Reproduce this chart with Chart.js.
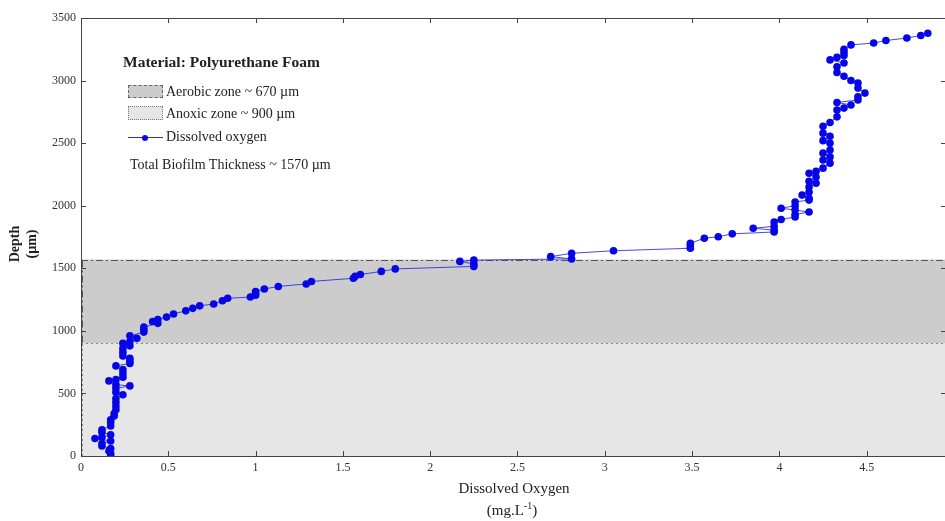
<!DOCTYPE html>
<html>
<head>
<meta charset="utf-8">
<script src="https://cdn.jsdelivr.net/npm/chart.js@4"></script>
<style>
  body { margin: 0; background: #fff; overflow: hidden; }
  #wrap { position: relative; width: 945px; height: 521px; overflow: hidden; font-family: 'Liberation Serif', 'DejaVu Serif', serif; color: #222; }
  #chart { position: absolute; left: 0; top: 0; }
  .lbl { position: absolute; white-space: nowrap; font-size: 14px; line-height: 1; }
  .ico { position: absolute; box-sizing: border-box; }
</style>
</head>
<body>
<div id="wrap">
  <canvas id="chart" width="951" height="521"></canvas>

  <div class="lbl" style="left:123px;top:54px;font-weight:bold;font-size:15.5px;">Material: Polyurethane Foam</div>
  <div class="ico" style="left:128px;top:85px;width:35px;height:13px;background:#cccccc;border:1px dashed #666;"></div>
  <div class="lbl" style="left:166px;top:85px;">Aerobic zone ~ 670 µm</div>
  <div class="ico" style="left:128px;top:106px;width:35px;height:14px;background:#e6e6e6;border:1px dotted #777;"></div>
  <div class="lbl" style="left:166px;top:107px;">Anoxic zone ~ 900 µm</div>
  <div class="ico" style="left:128px;top:137px;width:35px;height:1px;background:#2a2ae0;"></div>
  <div class="ico" style="left:142px;top:135px;width:6px;height:6px;border-radius:3px;background:#0a0ae0;"></div>
  <div class="lbl" style="left:166px;top:130px;">Dissolved oxygen</div>
  <div class="lbl" style="left:130px;top:158px;">Total Biofilm Thickness ~ 1570 µm</div>

  <div class="lbl" style="left:514px;top:481px;transform:translateX(-50%);font-size:15px;">Dissolved Oxygen</div>
  <div class="lbl" style="left:512px;top:501px;transform:translateX(-50%);font-size:15px;">(mg.L<sup style="font-size:10px;">-1</sup>)</div>
  <div class="lbl" style="left:15px;top:244px;font-weight:bold;transform:translate(-50%,-50%) rotate(-90deg);transform-origin:center;">Depth</div>
  <div class="lbl" style="left:32px;top:244px;font-weight:bold;transform:translate(-50%,-50%) rotate(-90deg);transform-origin:center;">(µm)</div>
</div>

<script>
// depth profile (bottom of biofilm = 0)
var depth = [0, 20, 40, 60, 80, 100, 120, 140, 150, 170, 190, 210, 240, 270, 290, 320, 340, 370, 400, 430,
  460, 490, 510, 540, 560, 570, 600, 610, 630, 660, 690, 720, 740, 760, 780, 800, 830, 860, 880, 900,
  915, 940, 960, 990, 1010, 1030, 1060, 1075, 1090, 1110, 1135, 1160, 1180, 1200, 1215, 1240, 1260, 1270, 1285, 1300,
  1315, 1335, 1355, 1375, 1395, 1420, 1435, 1450, 1475, 1495, 1515, 1535, 1555, 1565, 1575, 1593, 1620, 1640, 1660, 1680,
  1700, 1740, 1752, 1775, 1790, 1805, 1820, 1835, 1870, 1890, 1910, 1930, 1950, 1965, 1980, 2000, 2030, 2045, 2060, 2085,
  2110, 2150, 2180, 2195, 2230, 2260, 2275, 2300, 2340, 2365, 2390, 2420, 2445, 2500, 2520, 2555, 2580, 2635, 2665, 2710,
  2765, 2780, 2805, 2825, 2845, 2870, 2900, 2940, 2980, 3000, 3035, 3065, 3110, 3140, 3165, 3185, 3200, 3225, 3250, 3285,
  3300, 3320, 3340, 3360, 3378];
var oxygen = [0.17, 0.17, 0.16, 0.17, 0.12, 0.12, 0.17, 0.08, 0.12, 0.17, 0.12, 0.12, 0.17, 0.17, 0.17, 0.19, 0.19, 0.20, 0.20, 0.20,
  0.20, 0.24, 0.20, 0.20, 0.28, 0.20, 0.16, 0.20, 0.24, 0.24, 0.24, 0.20, 0.28, 0.28, 0.28, 0.24, 0.24, 0.24, 0.28, 0.24,
  0.28, 0.32, 0.28, 0.36, 0.36, 0.36, 0.44, 0.41, 0.44, 0.49, 0.53, 0.60, 0.64, 0.68, 0.76, 0.81, 0.84, 0.97, 1.00, 1.00,
  1.00, 1.05, 1.13, 1.29, 1.32, 1.56, 1.57, 1.60, 1.72, 1.80, 2.25, 2.25, 2.17, 2.25, 2.81, 2.69, 2.81, 3.05, 3.49, 3.49,
  3.49, 3.57, 3.65, 3.73, 3.97, 3.97, 3.85, 3.97, 3.97, 4.01, 4.09, 4.09, 4.17, 4.09, 4.01, 4.09, 4.09, 4.17, 4.17, 4.13,
  4.17, 4.17, 4.21, 4.17, 4.21, 4.17, 4.21, 4.25, 4.29, 4.25, 4.29, 4.25, 4.29, 4.29, 4.25, 4.29, 4.25, 4.25, 4.29, 4.33,
  4.33, 4.37, 4.41, 4.33, 4.45, 4.45, 4.49, 4.45, 4.45, 4.41, 4.37, 4.33, 4.33, 4.37, 4.29, 4.33, 4.37, 4.37, 4.37, 4.41,
  4.54, 4.61, 4.73, 4.81, 4.85];

// zones: anoxic 0-900, aerobic 900-1570
var zoneNames = ['Anoxic zone', 'Aerobic zone'];
var zoneFrom = [0, 900];
var zoneTo = [900, 1570];
var zoneColors = ['#e6e6e6', '#cccccc'];

var xTicks = [0, 0.5, 1, 1.5, 2, 2.5, 3, 3.5, 4, 4.5];
var yTicks = [0, 500, 1000, 1500, 2000, 2500, 3000, 3500];

var points = depth.map(function(d, i) { return {x: oxygen[i], y: d}; });

var zonePlugin = {
  id: 'zones',
  beforeDatasetsDraw: function(chart) {
    var ctx = chart.ctx, xs = chart.scales.x, ys = chart.scales.y;
    var left = xs.left, right = xs.right;
    ctx.save();
    for (var i = 0; i < zoneNames.length; i++) {
      var top = ys.getPixelForValue(zoneTo[i]);
      var bot = ys.getPixelForValue(zoneFrom[i]);
      ctx.fillStyle = zoneColors[i];
      ctx.fillRect(left, top, right - left, bot - top);
    }
    ctx.lineWidth = 1;
    // anoxic border: dotted
    ctx.strokeStyle = '#888';
    ctx.setLineDash([2, 3]);
    var y900 = Math.round(ys.getPixelForValue(zoneTo[0])) + 0.5;
    ctx.beginPath();
    ctx.moveTo(left, y900); ctx.lineTo(right, y900);
    ctx.moveTo(left + 1.5, ys.getPixelForValue(0)); ctx.lineTo(left + 1.5, y900);
    ctx.stroke();
    // aerobic border: dash-dot
    ctx.strokeStyle = '#555';
    ctx.setLineDash([7, 3, 2, 3]);
    var yTop = Math.round(ys.getPixelForValue(zoneTo[1])) + 0.5;
    ctx.beginPath();
    ctx.moveTo(left, yTop); ctx.lineTo(right, yTop);
    ctx.moveTo(left + 1.5, yTop); ctx.lineTo(left + 1.5, y900);
    ctx.stroke();
    ctx.restore();
  },
  afterDraw: function(chart) {
    var ctx = chart.ctx, xs = chart.scales.x, ys = chart.scales.y;
    var a = chart.chartArea;
    ctx.save();
    ctx.strokeStyle = '#444';
    ctx.lineWidth = 1;
    ctx.beginPath();
    ctx.moveTo(a.left + 0.5, a.top + 0.5); ctx.lineTo(a.left + 0.5, a.bottom + 0.5);
    ctx.lineTo(a.right, a.bottom + 0.5);
    ctx.moveTo(a.left, a.top + 0.5); ctx.lineTo(a.right, a.top + 0.5);
    xTicks.forEach(function(v) {
      var px = Math.round(xs.getPixelForValue(v)) + 0.5;
      ctx.moveTo(px, a.bottom); ctx.lineTo(px, a.bottom - 5);
      ctx.moveTo(px, a.top); ctx.lineTo(px, a.top + 5);
    });
    yTicks.forEach(function(v) {
      var py = Math.round(ys.getPixelForValue(v)) + 0.5;
      ctx.moveTo(a.left, py); ctx.lineTo(a.left + 5, py);
      ctx.moveTo(a.right - 1, py); ctx.lineTo(a.right - 6, py);
    });
    ctx.stroke();
    ctx.restore();
  }
};

var ctx = document.getElementById('chart');
var myChart = new Chart(ctx, {
  type: 'scatter',
  data: {
    datasets: [{
      label: 'Dissolved oxygen',
      data: points,
      showLine: true,
      borderColor: 'rgba(40, 40, 225, 0.85)',
      borderWidth: 1,
      backgroundColor: '#0505e8',
      pointBorderWidth: 0,
      pointRadius: 3.8
    }]
  },
  options: {
    responsive: false,
    animation: false,
    layout: { padding: { top: 18, right: 0, left: 0, bottom: 0 } },
    plugins: { legend: { display: false }, tooltip: { enabled: false } },
    scales: {
      x: {
        type: 'linear', min: 0, max: 4.96,
        afterBuildTicks: function(s) { s.ticks = xTicks.map(function(v) { return {value: v}; }); },
        afterFit: function(s) { s.height = 65; },
        grid: { display: false, drawTicks: false },
        border: { display: false },
        ticks: {
          padding: 5, color: '#333', maxRotation: 0,
          font: { family: 'Liberation Serif', size: 12 },
          callback: function(v) { return String(v); }
        }
      },
      y: {
        type: 'linear', min: 0, max: 3500,
        afterBuildTicks: function(s) { s.ticks = yTicks.map(function(v) { return {value: v}; }); },
        afterFit: function(s) { s.width = 81; },
        grid: { display: false, drawTicks: false },
        border: { display: false },
        ticks: {
          padding: 5, color: '#333',
          font: { family: 'Liberation Serif', size: 12 },
          callback: function(v) { return String(v); }
        }
      }
    }
  },
  plugins: [zonePlugin]
});
</script>
</body>
</html>
